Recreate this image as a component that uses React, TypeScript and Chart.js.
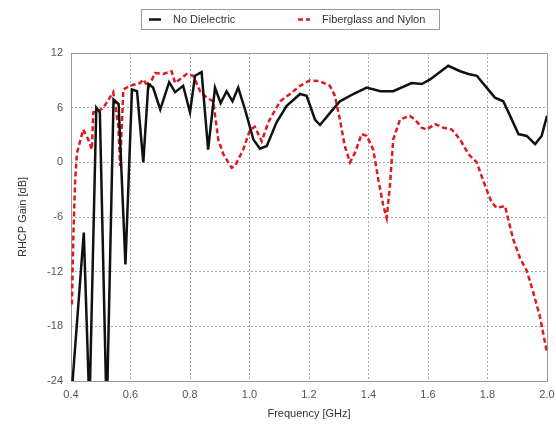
import React, { useEffect, useRef } from "react";
import { Chart, registerables } from "chart.js";

Chart.register(...registerables);

const seriesLabels = ["No Dielectric", "Fiberglass and Nylon"];

const noDielectricFreq = [
  0.403, 0.443, 0.462, 0.485, 0.497, 0.52, 0.543, 0.56, 0.583, 0.605, 0.622, 0.643,
  0.66, 0.676, 0.7, 0.73, 0.75, 0.777, 0.8, 0.817, 0.839, 0.861, 0.884, 0.903, 0.923,
  0.943, 0.962, 0.985, 1.013, 1.035, 1.058, 1.091, 1.125, 1.17, 1.192, 1.22, 1.237,
  1.27, 1.304, 1.349, 1.394, 1.44, 1.483, 1.545, 1.579, 1.607, 1.668, 1.708, 1.736,
  1.764, 1.797, 1.825, 1.853, 1.876, 1.904, 1.932, 1.96, 1.982, 2.0,
];
const noDielectricGain = [
  -25, -7.7, -27, 6.0, 5.5, -28, 6.9, 6.4, -11.2, 8.0, 7.8, 0,
  8.6, 8.2, 5.8, 8.8, 7.7, 8.4, 5.5, 9.5, 9.9, 1.4, 8.2, 6.5, 7.8,
  6.7, 8.2, 5.8, 2.5, 1.5, 1.8, 4.4, 6.2, 7.5, 7.3, 4.7, 4.1,
  5.4, 6.7, 7.5, 8.2, 7.8, 7.8, 8.7, 8.6, 9.1, 10.6, 10.0, 9.7,
  9.5, 8.2, 7.1, 6.7, 5.1, 3.1, 2.9, 2.0, 2.9, 5.1,
];

const fiberglassFreq = [
  0.403, 0.408, 0.414, 0.42, 0.428, 0.441, 0.458, 0.47, 0.475, 0.492, 0.509, 0.542,
  0.559, 0.565, 0.576, 0.598, 0.632, 0.643, 0.66, 0.682, 0.71, 0.738, 0.75, 0.789,
  0.811, 0.834, 0.856, 0.878, 0.895, 0.912, 0.94, 0.951, 0.979, 1.002, 1.018, 1.041,
  1.063, 1.103, 1.136, 1.17, 1.203, 1.237, 1.27, 1.287, 1.304, 1.32, 1.338, 1.355,
  1.377, 1.394, 1.416, 1.433, 1.45, 1.461, 1.472, 1.483, 1.506, 1.539, 1.556, 1.579,
  1.596, 1.624, 1.652, 1.68, 1.708, 1.736, 1.764, 1.78, 1.797, 1.814, 1.831, 1.859,
  1.87, 1.887, 1.909, 1.932, 1.954, 1.976, 2.0,
];
const fiberglassGain = [
  -15.6, -8, -2, 1.0, 2.0, 3.6, 2.5, 1.4, 5.5, 5.6, 6.0, 7.7,
  4.0, -0.4, 8.0, 8.4, 8.7, 9.1, 8.2, 9.8, 9.7, 10.0, 8.7, 9.7,
  9.5, 7.8, 7.1, 6.7, 2.5, 0.9, -0.6, -0.4, 1.4, 3.6, 3.9, 2.3,
  4.4, 6.7, 7.5, 8.4, 9.0, 8.9, 8.4, 7.3, 4.7, 1.8, 0, 1.1,
  3.1, 2.9, 1.4, -1.9, -4.8, -6.1, -2.6, 2.5, 4.7, 5.1, 4.7, 3.8,
  3.6, 4.2, 3.8, 3.6, 2.5, 0.9, 0, -1.5, -3.0, -4.4, -5.0, -4.8,
  -6.3, -8.5, -10.5, -11.9, -14.3, -16.9, -20.9,
];

const xTicks = [0.4, 0.6, 0.8, 1.0, 1.2, 1.4, 1.6, 1.8, 2.0];
const yTicks = [-24, -18, -12, -6, 0, 6, 12];

const FONT = "'Liberation Sans', Arial, sans-serif";

const frameAndLegend = {
  id: "frameAndLegend",
  beforeDatasetsDraw(chart: any) {
    const { ctx, chartArea } = chart;
    ctx.save();
    ctx.strokeStyle = "#9a9a9a";
    ctx.lineWidth = 1;
    ctx.setLineDash([]);
    ctx.strokeRect(
      Math.round(chartArea.left) + 0.5,
      Math.round(chartArea.top) + 0.5,
      Math.round(chartArea.right - chartArea.left),
      Math.round(chartArea.bottom - chartArea.top)
    );
    ctx.restore();
  },
  afterDraw(chart: any) {
    const { ctx } = chart;
    ctx.save();
    ctx.strokeStyle = "#9a9a9a";
    ctx.lineWidth = 1;
    ctx.setLineDash([]);
    ctx.strokeRect(141.5, 9.5, 298, 20);
    const itemX = [149, 298];
    chart.data.datasets.forEach((ds: any, i: number) => {
      const x = itemX[i];
      const y = 19.5;
      ctx.strokeStyle = ds.borderColor;
      ctx.lineWidth = 2.5;
      ctx.setLineDash(i === 0 ? [] : [5, 3]);
      ctx.beginPath();
      ctx.moveTo(x, y);
      ctx.lineTo(x + 12, y);
      ctx.stroke();
      ctx.setLineDash([]);
      ctx.fillStyle = "#333";
      ctx.font = `11px ${FONT}`;
      ctx.textBaseline = "middle";
      ctx.textAlign = "left";
      ctx.fillText(ds.label, x + 24, y);
    });
    ctx.restore();
  },
};

export default function App() {
  const canvasRef = useRef<HTMLCanvasElement | null>(null);

  useEffect(() => {
    if (!canvasRef.current) return;
    const chart = new Chart(canvasRef.current, {
      type: "line",
      data: {
        datasets: [
          {
            label: seriesLabels[0],
            data: noDielectricFreq.map((f, i) => ({ x: f, y: noDielectricGain[i] })),
            borderColor: "#111111",
            borderWidth: 2.5,
            pointRadius: 0,
            tension: 0,
            fill: false,
          },
          {
            label: seriesLabels[1],
            data: fiberglassFreq.map((f, i) => ({ x: f, y: fiberglassGain[i] })),
            borderColor: "#e0191e",
            borderWidth: 2.5,
            borderDash: [5, 3],
            pointRadius: 0,
            tension: 0,
            fill: false,
          },
        ],
      },
      options: {
        responsive: false,
        animation: false,
        layout: { padding: { top: 53, right: 0, left: 0, bottom: 0 } },
        plugins: {
          legend: { display: false },
          tooltip: { enabled: false },
        },
        scales: {
          x: {
            type: "linear",
            min: 0.4,
            max: 2.0,
            afterBuildTicks: (scale: any) => {
              scale.ticks = xTicks.map((v) => ({ value: v }));
            },
            afterFit: (scale: any) => {
              scale.height = 46;
              scale.paddingRight = 9;
              scale.paddingLeft = 0;
            },
            ticks: {
              padding: 7,
              color: "#555",
              font: { family: FONT, size: 11 },
              callback: (v: any) => Number(v).toFixed(1),
              maxRotation: 0,
            },
            grid: {
              color: "#a8a8a8",
              lineWidth: 1,
              drawTicks: false,
            },
            border: { display: false, dash: [2, 2] },
            title: {
              display: true,
              text: "Frequency [GHz]",
              color: "#333",
              font: { family: FONT, size: 11 },
              padding: { top: 0, bottom: 6 },
            },
          },
          y: {
            type: "linear",
            min: -24,
            max: 12,
            afterBuildTicks: (scale: any) => {
              scale.ticks = yTicks.map((v) => ({ value: v }));
            },
            afterFit: (scale: any) => {
              scale.width = 71;
              scale.paddingTop = 0;
              scale.paddingBottom = 0;
            },
            ticks: {
              padding: 8,
              color: "#555",
              font: { family: FONT, size: 11 },
            },
            grid: {
              color: "#a8a8a8",
              lineWidth: 1,
              drawTicks: false,
            },
            border: { display: false, dash: [2, 2] },
            title: {
              display: true,
              text: "RHCP Gain [dB]",
              color: "#333",
              font: { family: FONT, size: 11 },
              padding: { top: 16, bottom: 0 },
            },
          },
        },
      },
      plugins: [frameAndLegend],
    });
    return () => chart.destroy();
  }, []);

  return (
    <div style={{ position: "absolute", left: 0, top: 0, width: 556, height: 427, background: "#fff" }}>
      <canvas ref={canvasRef} width={556} height={427} style={{ display: "block" }} />
    </div>
  );
}
